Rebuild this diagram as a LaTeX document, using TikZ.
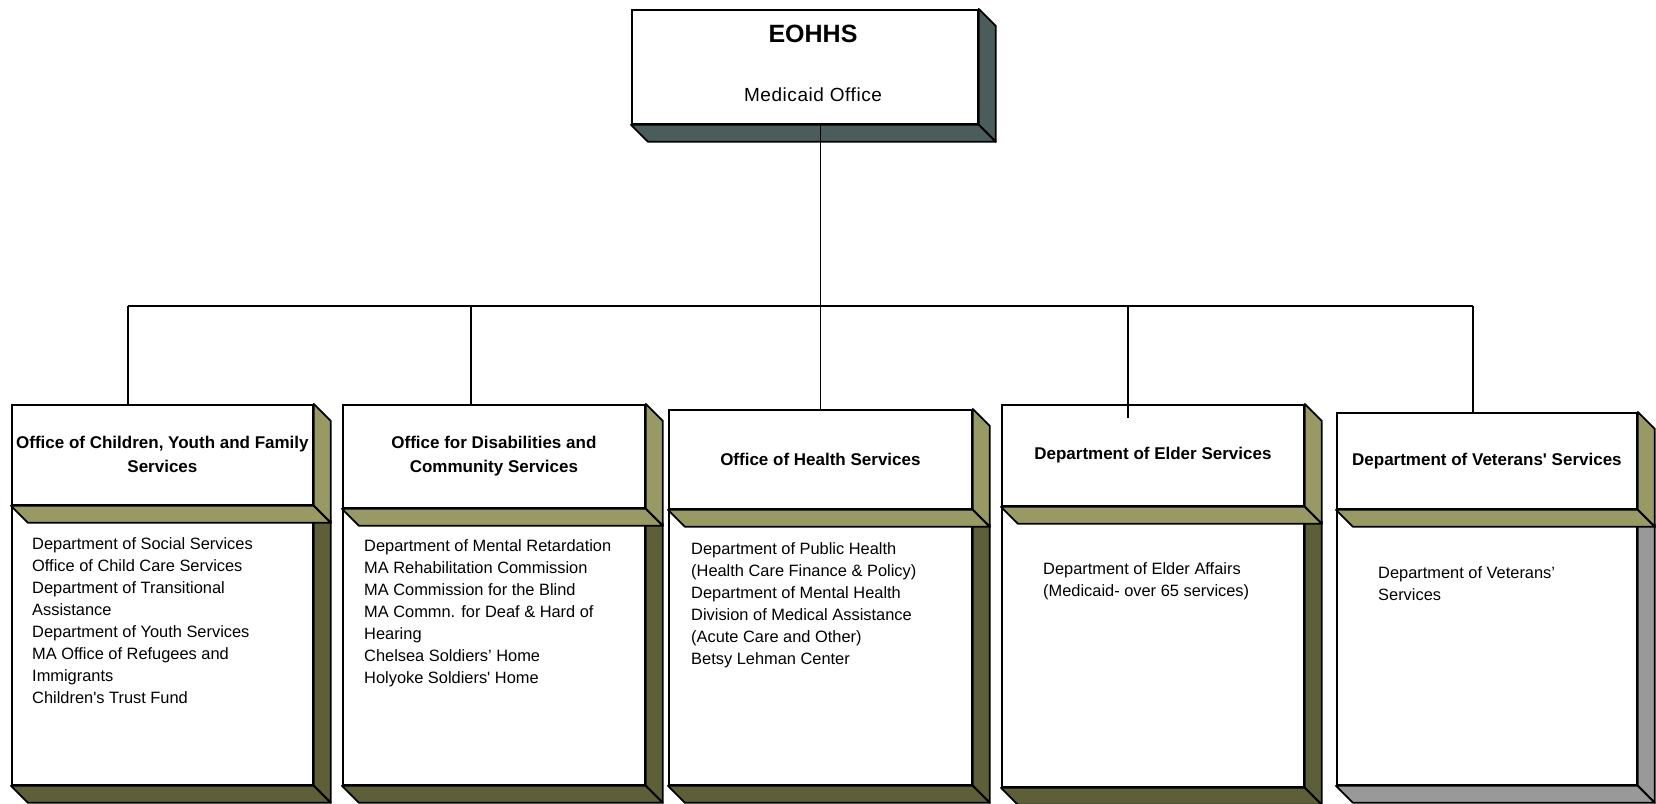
\documentclass[tikz,border=0pt]{standalone}
\usepackage{fontspec}
\setmainfont{Liberation Sans}
\definecolor{oliveL}{HTML}{999966}
\definecolor{oliveD}{HTML}{5E5E38}
\definecolor{slateD}{HTML}{4A5C5C}
\definecolor{greyS}{HTML}{999999}
\tikzset{
  frontface/.style={draw=black, fill=white, line width=1.8pt, inner sep=0pt, rectangle},
  face/.style={draw=black, line width=1.8pt, line join=round},
  conn/.style={draw=black, line width=1.3pt},
  headfont/.style={font=\fontsize{17}{24}\selectfont\bfseries, text=black},
  bodyfont/.style={font=\fontsize{16.4}{22}\selectfont, text=black, align=left, inner sep=0pt, anchor=north west},
}
% #1 name, #2 L, #3 T, #4 Hb, #5 R, #6 B, #7 lower side colour, #8 header text
\newcommand\orgbox[8]{%
  \pgfmathsetmacro\obwd{#5-#2}%
  \pgfmathsetmacro\obhh{#4-#3}%
  \pgfmathsetmacro\oblh{#6-#4}%
  \node[frontface, minimum width=\obwd pt, minimum height=\oblh pt, anchor=north west] (#1l) at (#2,#4) {};
  \filldraw[face, fill=#7] (#1l.north east) -- ++(17,17) -- ([shift={(17,17)}]#1l.south east) -- (#1l.south east) -- cycle;
  \filldraw[face, fill=#7] (#1l.south west) -- (#1l.south east) -- ++(17,17) -- ([shift={(17,17)}]#1l.south west) -- cycle;
  \node[frontface, minimum width=\obwd pt, minimum height=\obhh pt, anchor=north west, align=center, headfont] (#1h) at (#2,#3) {#8};
  \filldraw[face, fill=oliveL] (#1h.north east) -- ++(17,17) -- ([shift={(17,17)}]#1h.south east) -- (#1h.south east) -- cycle;
  \filldraw[face, fill=oliveL] (#1h.south west) -- (#1h.south east) -- ++(17,17) -- ([shift={(17,17)}]#1h.south west) -- cycle;
}
\begin{document}
\begin{tikzpicture}[x=1pt,y=-1pt]
\useasboundingbox (0,0) rectangle (1656,803);
% top box
\node[frontface, minimum width=346pt, minimum height=114pt, anchor=north west] (top) at (631,9) {};
\filldraw[face, fill=slateD] (top.north east) -- ++(17,17) -- ([shift={(17,17)}]top.south east) -- (top.south east) -- cycle;
\filldraw[face, fill=slateD] (top.south west) -- (top.south east) -- ++(17,17) -- ([shift={(17,17)}]top.south west) -- cycle;
\node[font=\fontsize{25}{30}\selectfont\bfseries, anchor=center] (eohhs) at (813,34) {EOHHS};
\node[font=\fontsize{19}{22}\selectfont\addfontfeature{LetterSpace=3}, anchor=center] (medic) at (813,95) {Medicaid Office};

% column boxes
\orgbox{b1}{11}{404}{504}{312}{784}{oliveD}{Office of Children, Youth and Family\\Services}
\orgbox{b2}{342}{404}{507}{644}{784}{oliveD}{Office for Disabilities and\\Community Services}
\orgbox{b3}{668}{409}{508}{971}{784}{oliveD}{Office of Health Services}
\orgbox{b4}{1001}{404}{505}{1303}{786}{oliveD}{Department of Elder Services}
\orgbox{b5}{1336}{412}{508}{1636}{784}{greyS}{Department of Veterans\textquotesingle{} Services}

% body texts
\node[bodyfont] (t1) at (32,537) {Department of Social Services\\Office of Child Care Services\\Department of Transitional\\Assistance\\Department of Youth Services\\MA Office of Refugees and\\Immigrants\\Children\textquotesingle{}s Trust Fund};
\node[bodyfont] (t2) at (364,539) {Department of Mental Retardation\\MA Rehabilitation Commission\\MA Commission for the Blind\\MA Commn. for Deaf \& Hard of\\Hearing\\Chelsea Soldiers’ Home\\Holyoke Soldiers\textquotesingle{} Home};
\node[bodyfont] (t3) at (691,542) {Department of Public Health\\(Health Care Finance \& Policy)\\Department of Mental Health\\Division of Medical Assistance\\(Acute Care and Other)\\Betsy Lehman Center};
\node[bodyfont] (t4) at (1043,562) {Department of Elder Affairs\\(Medicaid- over 65 services)};
\node[bodyfont] (t5) at (1378,566) {Department of Veterans’\\Services};

% connectors
\coordinate (c1) at (128,306);
\coordinate (c2) at (471,306);
\coordinate (c3) at (819.5,306);
\coordinate (c4) at (1128,306);
\coordinate (c5) at (1473,306);
\draw[conn] (top.south -| b3h.north) -- (b3h.north);
\draw[conn] (c1) -- (c5);
\draw[conn] (c1) -- (c1 |- b1h.north);
\draw[conn] (c2) -- (c2 |- b2h.north);
\draw[conn] (c4) -- ([yshift=-14pt]c4 |- b4h.north);
\draw[conn] (c5) -- (c5 |- b5h.north);
\end{tikzpicture}
\end{document}
